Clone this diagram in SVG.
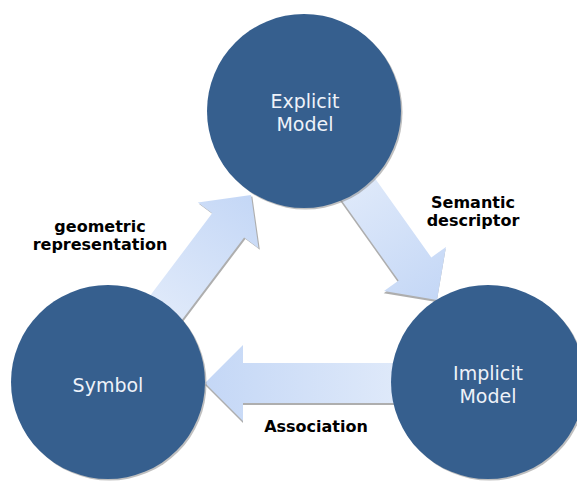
<svg xmlns="http://www.w3.org/2000/svg" width="577" height="481" viewBox="0 0 577 481">
<style>
.node{fill:#365f8e}
.nshadow{fill:#8a8a8a;opacity:0.55}
.ntext{font-family:"DejaVu Sans",sans-serif;font-size:19px;fill:#eef2f9;text-anchor:middle}
.lbl{font-family:"DejaVu Sans",sans-serif;font-size:16px;font-weight:bold;fill:#000;text-anchor:middle}
.arr{fill:url(#ag)}
.ashadow{fill:#9a9a9a;opacity:0.8}
</style>
<defs>
<linearGradient id="ag" x1="0" y1="0" x2="1" y2="0">
<stop offset="0" stop-color="#e0eafa"/>
<stop offset="1" stop-color="#c4d7f6"/>
</linearGradient>
<polygon id="arrowShape" points="0,0 -38,-38 -38,-20 -150,-20 -150,20 -38,20 -38,38"/>
<polygon id="arrowLong" points="0,0 -38,-38 -38,-20 -200,-20 -200,20 -38,20 -38,38"/>
</defs>
<g id="connectors">
<g id="geometric-arrow" transform="translate(251,195) rotate(-53)">
<use href="#arrowShape" class="ashadow" transform="translate(-0.4,2)"/>
<use href="#arrowShape" class="arr"/>
</g>
<g id="semantic-arrow" transform="translate(437,300) rotate(54.6)">
<use href="#arrowShape" class="ashadow" transform="translate(1.5,1.5)"/>
<use href="#arrowShape" class="arr"/>
</g>
<g id="association-arrow" transform="translate(205,383) rotate(180)">
<use href="#arrowLong" class="ashadow" transform="translate(0,-2)"/>
<use href="#arrowLong" class="arr"/>
</g>
<text class="lbl" x="100" y="232">geometric</text>
<text class="lbl" x="100" y="250">representation</text>
<text class="lbl" x="473" y="208">Semantic</text>
<text class="lbl" x="473" y="226">descriptor</text>
<text class="lbl" x="316" y="432">Association</text>
</g>
<g id="explicit-model">
<circle class="nshadow" cx="305.5" cy="112.5" r="97"/>
<circle class="node" cx="304" cy="111" r="97"/>
<text class="ntext" x="305" y="108">Explicit</text>
<text class="ntext" x="305" y="131">Model</text>
</g>
<g id="symbol">
<circle class="nshadow" cx="109.5" cy="383.5" r="97"/>
<circle class="node" cx="108" cy="382" r="97"/>
<text class="ntext" x="108" y="392">Symbol</text>
</g>
<g id="implicit-model">
<circle class="nshadow" cx="489.5" cy="383.5" r="97"/>
<circle class="node" cx="488" cy="382" r="97"/>
<text class="ntext" x="488" y="380">Implicit</text>
<text class="ntext" x="488" y="403">Model</text>
</g>
</svg>
